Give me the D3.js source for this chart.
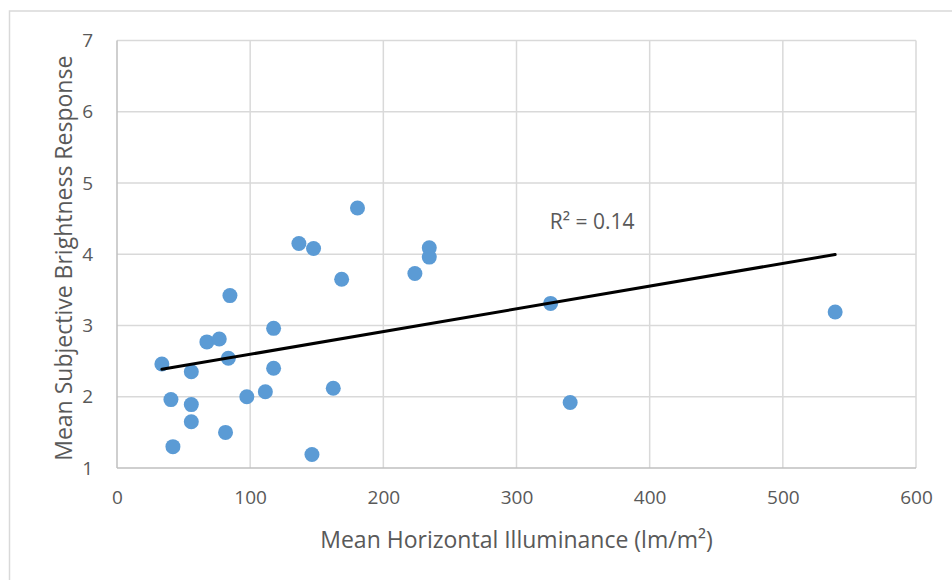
<!DOCTYPE html>
<html>
<head>
<meta charset="utf-8">
<script src="https://cdn.jsdelivr.net/npm/d3@7"></script>
<style>
  body { margin: 0; background: #fff; }
  text { font-family: "Open Sans", sans-serif; }
</style>
</head>
<body>
<div id="wrapper"></div>
<script>
// 1. Data
const illuminance = [33.7, 40.5, 42.0, 55.8, 55.8, 55.8, 67.5, 76.8, 81.5, 83.6, 84.8, 97.5, 111.4, 117.6, 117.6,
  136.6, 146.4, 147.6, 162.4, 168.7, 180.6, 223.7, 234.5, 234.5, 325.6, 340.3, 539.3]
const brightness = [2.46, 1.96, 1.30, 2.35, 1.89, 1.65, 2.77, 2.81, 1.50, 2.54, 3.42, 2.00, 2.07, 2.96, 2.40,
  4.15, 1.19, 4.08, 2.12, 3.65, 4.65, 3.73, 4.09, 3.96, 3.31, 1.92, 3.19]
const xTicks = [0, 100, 200, 300, 400, 500, 600]
const yTicks = [1, 2, 3, 4, 5, 6, 7]
const rSquaredLabel = "R² = 0.14"

const data = illuminance.map((x, i) => ({ x, y: brightness[i] }))
const xAccessor = d => d.x
const yAccessor = d => d.y

// 2. Dimensions
const dimensions = {
  width: 952,
  height: 580,
  margin: { top: 40.5, right: 36, bottom: 112, left: 117 }
}
dimensions.boundedWidth = dimensions.width - dimensions.margin.left - dimensions.margin.right
dimensions.boundedHeight = dimensions.height - dimensions.margin.top - dimensions.margin.bottom

// 3. Canvas
const wrapper = d3.select("#wrapper")
  .append("svg")
  .attr("width", dimensions.width)
  .attr("height", dimensions.height)

wrapper.append("rect")
  .attr("x", 9.5)
  .attr("y", 11)
  .attr("width", 1000)
  .attr("height", 1000)
  .attr("fill", "none")
  .attr("stroke", "#d9d9d9")
  .attr("stroke-width", 1.5)

const bounds = wrapper.append("g")
  .attr("transform", `translate(${dimensions.margin.left}, ${dimensions.margin.top})`)

// 4. Scales
const xScale = d3.scaleLinear()
  .domain([0, 600])
  .range([0, dimensions.boundedWidth])

const yScale = d3.scaleLinear()
  .domain([1, 7])
  .range([dimensions.boundedHeight, 0])

// 5. Gridlines
bounds.append("g")
  .selectAll("line")
  .data(xTicks.slice(1))
  .join("line")
    .attr("x1", d => xScale(d))
    .attr("x2", d => xScale(d))
    .attr("y1", 0)
    .attr("y2", dimensions.boundedHeight)
    .attr("stroke", "#d9d9d9")
    .attr("stroke-width", 1.5)

bounds.append("g")
  .selectAll("line")
  .data(yTicks.slice(1))
  .join("line")
    .attr("x1", 0)
    .attr("x2", dimensions.boundedWidth)
    .attr("y1", d => yScale(d))
    .attr("y2", d => yScale(d))
    .attr("stroke", "#d9d9d9")
    .attr("stroke-width", 1.5)

// axis lines
bounds.append("line")
  .attr("x1", 0).attr("x2", dimensions.boundedWidth)
  .attr("y1", dimensions.boundedHeight).attr("y2", dimensions.boundedHeight)
  .attr("stroke", "#bfbfbf")
  .attr("stroke-width", 1.5)
bounds.append("line")
  .attr("x1", 0).attr("x2", 0)
  .attr("y1", 0).attr("y2", dimensions.boundedHeight)
  .attr("stroke", "#bfbfbf")
  .attr("stroke-width", 1.5)

// 6. Axes (labels only)
const xAxis = bounds.append("g")
  .attr("transform", `translate(0, ${dimensions.boundedHeight})`)
  .call(d3.axisBottom(xScale).tickValues(xTicks).tickSize(0).tickPadding(23).tickFormat(d3.format("d")))
xAxis.select(".domain").remove()
xAxis.selectAll("text")
  .attr("fill", "#595959")
  .style("font-size", "19px")
  .style("font-family", "'Open Sans', sans-serif")

const yAxis = bounds.append("g")
  .call(d3.axisLeft(yScale).tickValues(yTicks).tickSize(0).tickPadding(24).tickFormat(d3.format("d")))
yAxis.select(".domain").remove()
yAxis.selectAll("text")
  .attr("fill", "#595959")
  .style("font-size", "19px")
  .style("font-family", "'Open Sans', sans-serif")

// 7. Points
bounds.append("g")
  .selectAll("circle")
  .data(data)
  .join("circle")
    .attr("cx", d => xScale(xAccessor(d)))
    .attr("cy", d => yScale(yAccessor(d)))
    .attr("r", 7.5)
    .attr("fill", "#5b9bd5")

// 8. Linear trendline (least squares over the points)
const meanX = d3.mean(data, xAccessor)
const meanY = d3.mean(data, yAccessor)
const slope = d3.sum(data, d => (d.x - meanX) * (d.y - meanY)) / d3.sum(data, d => (d.x - meanX) ** 2)
const intercept = meanY - slope * meanX
const [minX, maxX] = d3.extent(data, xAccessor)

bounds.append("line")
  .attr("x1", xScale(minX))
  .attr("y1", yScale(intercept + slope * minX))
  .attr("x2", xScale(maxX))
  .attr("y2", yScale(intercept + slope * maxX))
  .attr("stroke", "#000")
  .attr("stroke-width", 3)
  .attr("stroke-linecap", "round")

bounds.append("text")
  .attr("x", xScale(325))
  .attr("y", yScale(4.35))
  .attr("fill", "#595959")
  .style("font-size", "21px")
  .text(rSquaredLabel)

// 9. Axis titles
wrapper.append("text")
  .attr("x", dimensions.margin.left + dimensions.boundedWidth / 2)
  .attr("y", 548)
  .attr("text-anchor", "middle")
  .attr("fill", "#595959")
  .style("font-size", "23px")
  .text("Mean Horizontal Illuminance (lm/m²)")

wrapper.append("text")
  .attr("transform", `translate(72, ${dimensions.margin.top + dimensions.boundedHeight / 2 + 4}) rotate(-90)`)
  .attr("text-anchor", "middle")
  .attr("fill", "#595959")
  .style("font-size", "23px")
  .text("Mean Subjective Brightness Response")
</script>
</body>
</html>
